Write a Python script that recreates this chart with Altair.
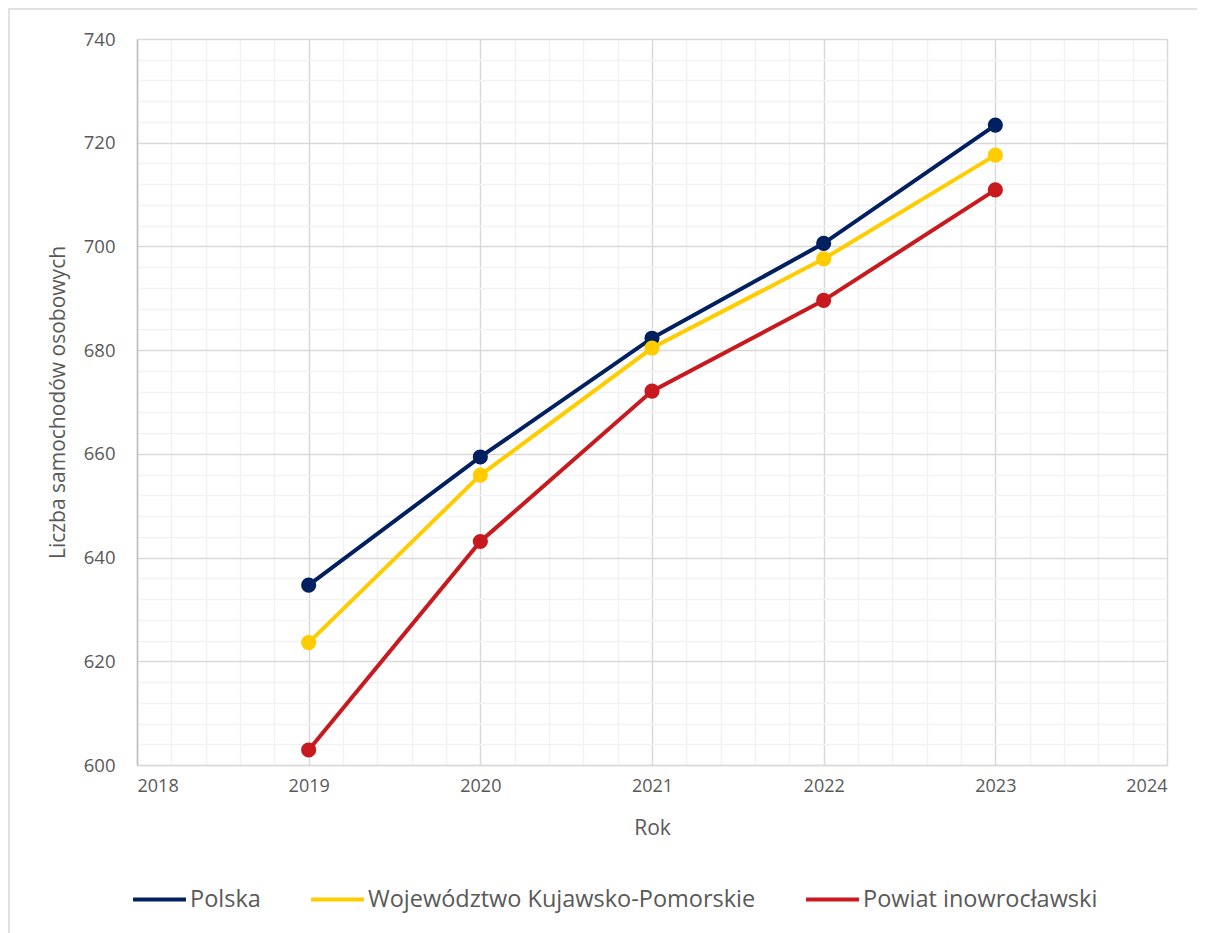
import altair as alt
import pandas as pd

years = [2019, 2020, 2021, 2022, 2023]
series_names = ["Polska", "Województwo Kujawsko-Pomorskie", "Powiat inowrocławski"]
polska = [634.7, 659.4, 682.3, 700.6, 723.4]
kujawsko = [623.6, 655.9, 680.4, 697.6, 717.6]
inowroclaw = [602.9, 643.1, 672.1, 689.6, 710.9]
colors = ["#002060", "#FFCC00", "#C8191E"]

rows = []
for name, vals in zip(series_names, [polska, kujawsko, inowroclaw]):
    for y, v in zip(years, vals):
        rows.append({"Rok": y, "Wartosc": v, "Seria": name})
df = pd.DataFrame(rows)

x_grid = [round(2018 + i * 0.2, 1) for i in range(31)]
y_grid = [600 + i * 4 for i in range(36)]

font = "Open Sans"
txt = "#595959"

x_enc = alt.X(
    "Rok:Q",
    scale=alt.Scale(domain=[2018, 2024], nice=False, zero=False),
    axis=alt.Axis(
        values=x_grid,
        labelExpr="datum.value % 1 === 0 ? format(datum.value, 'd') : ''",
        gridColor=alt.condition("datum.value % 1 === 0", alt.value("#D9D9D9"), alt.value("#F2F2F2")),
        gridWidth=1.5,
        ticks=False,
        domainColor="#D9D9D9",
        domainWidth=1.5,
        labelPadding=12,
        labelFont=font,
        labelFontSize=18,
        labelColor=txt,
        title="Rok",
        titleFont=font,
        titleFontSize=21,
        titleFontWeight="normal",
        titleColor=txt,
        titlePadding=22,
    ),
)
y_enc = alt.Y(
    "Wartosc:Q",
    scale=alt.Scale(domain=[600, 740], nice=False, zero=False),
    axis=alt.Axis(
        values=y_grid,
        labelExpr="datum.value % 20 === 0 ? format(datum.value, 'd') : ''",
        gridColor=alt.condition("datum.value % 20 === 0", alt.value("#D9D9D9"), alt.value("#F2F2F2")),
        gridWidth=1.5,
        ticks=False,
        domainColor="#BFBFBF",
        domainWidth=1.5,
        labelPadding=22,
        labelFont=font,
        labelFontSize=18.5,
        labelColor=txt,
        title="Liczba samochodów osobowych",
        titleFont=font,
        titleFontSize=21,
        titleFontWeight="normal",
        titleColor=txt,
        titlePadding=15,
    ),
)
color_enc = alt.Color(
    "Seria:N",
    scale=alt.Scale(domain=series_names, range=colors),
    legend=alt.Legend(
        title=None,
        orient="none",
        direction="horizontal",
        legendX=-6,
        legendY=832,
        symbolType="stroke",
        symbolSize=2800,
        symbolStrokeWidth=4,
        labelFont=font,
        labelFontSize=23.5,
        labelColor=txt,
        labelOffset=2,
        columnPadding=42,
        labelLimit=600,
    ),
)

base = alt.Chart(df)
lines = base.mark_line(strokeWidth=4).encode(x=x_enc, y=y_enc, color=color_enc)
points = base.mark_point(filled=True, size=230, opacity=1).encode(x=x_enc, y=y_enc, color=color_enc)

frame = alt.Chart(alt.Data(values=[{}])).mark_rect(
    fill=None, stroke="#D9D9D9", strokeWidth=1.5
).encode(
    x=alt.value(-128), x2=alt.value(1200), y=alt.value(-30), y2=alt.value(1000)
)

chart = alt.layer(frame, lines, points).properties(
    width=1030,
    height=726,
    autosize=alt.AutoSizeParams(type="none"),
    padding={"left": 129, "top": 31, "right": 30, "bottom": 180},
).configure_view(stroke="#D9D9D9", strokeWidth=1.5).configure(background="white")

chart.save("out.html", embed_options={"renderer": "svg", "actions": False})
